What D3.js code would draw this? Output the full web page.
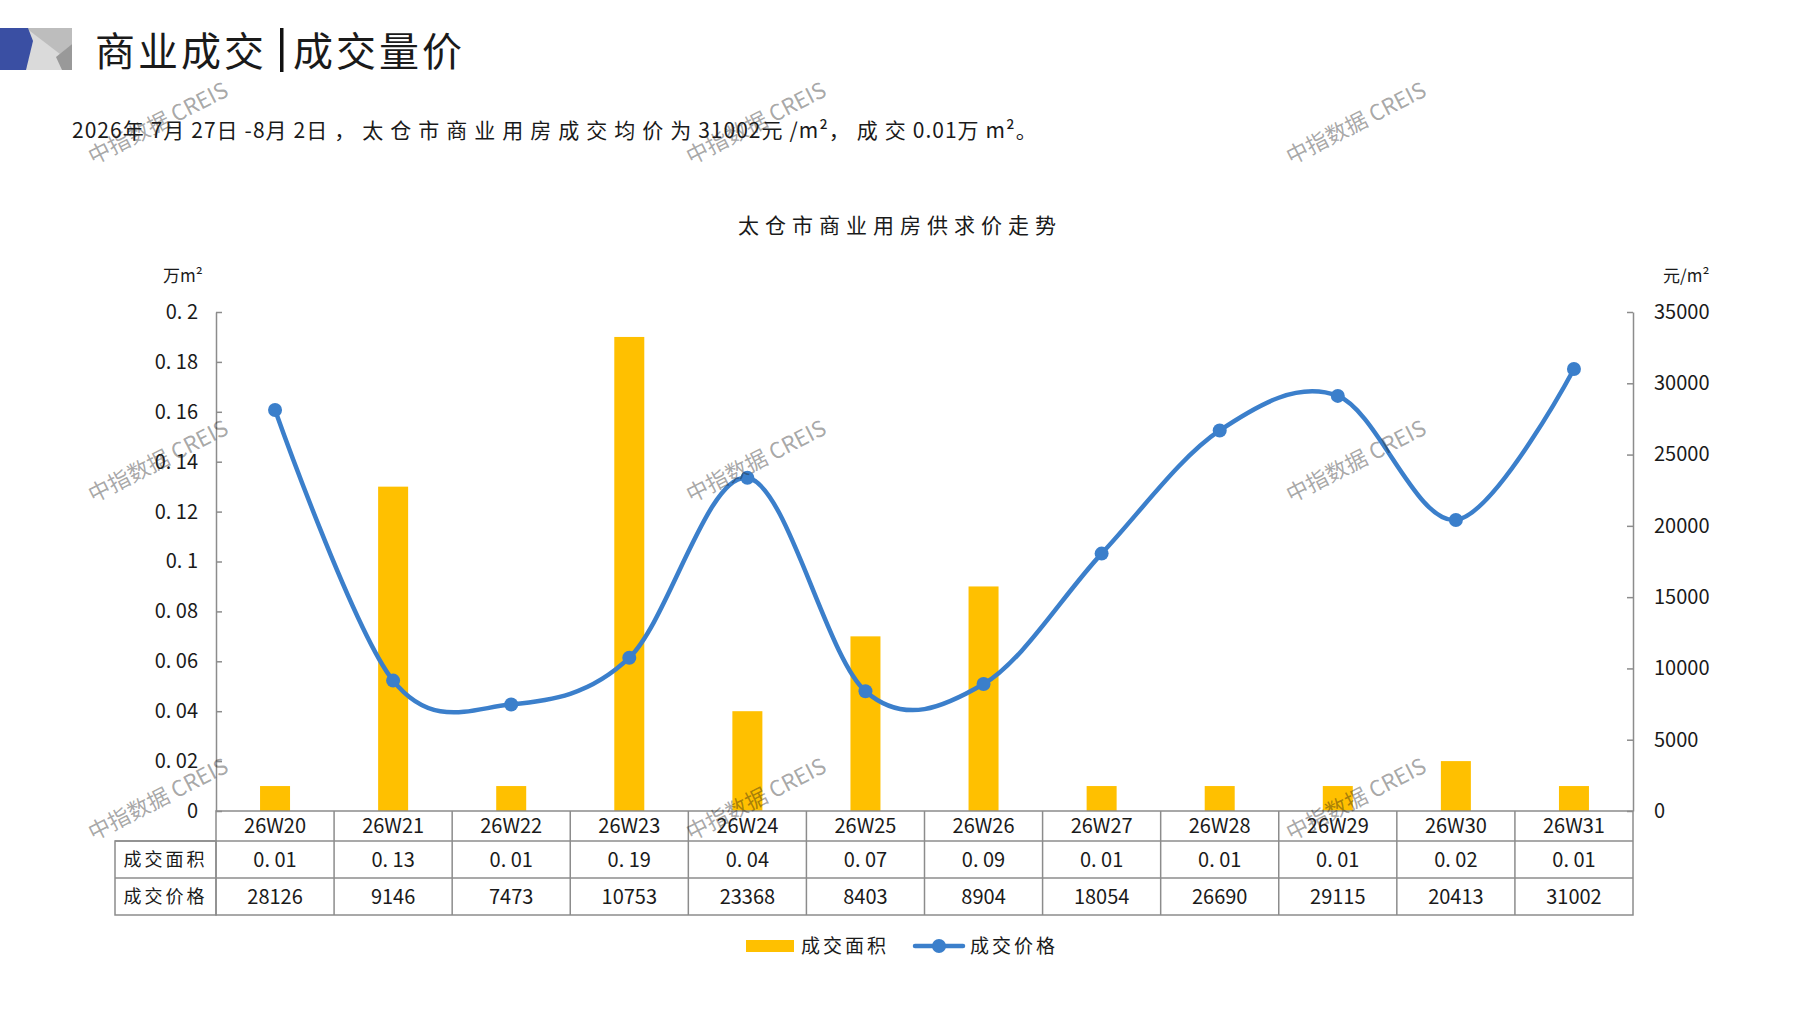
<!DOCTYPE html>
<html>
<head>
<meta charset="utf-8">
<script src="https://cdn.jsdelivr.net/npm/d3@7"></script>
<style>
    body { margin: 0; background: #ffffff; }
    svg { display: block; }
    text { font-family: "Noto Sans CJK SC", "Noto Sans", sans-serif; fill: #1a1a1a; }
</style>
</head>
<body>
<svg id="chart" width="1797" height="1010"></svg>
<script>
// ---- data ----
const weeks  = ['26W20', '26W21', '26W22', '26W23', '26W24', '26W25',
                '26W26', '26W27', '26W28', '26W29', '26W30', '26W31'];
const areas  = [0.01, 0.13, 0.01, 0.19, 0.04, 0.07, 0.09, 0.01, 0.01, 0.01, 0.02, 0.01];
const prices = [28126, 9146, 7473, 10753, 23368, 8403, 8904, 18054, 26690, 29115, 20413, 31002];

const areaTicks  = [0, 0.02, 0.04, 0.06, 0.08, 0.1, 0.12, 0.14, 0.16, 0.18, 0.2];
const priceTicks = [0, 5000, 10000, 15000, 20000, 25000, 30000, 35000];

const seriesNames = ['成交面积', '成交价格'];
const pageTitle   = ['商业成交', '成交量价'];
const summary     = '2026年7月27日-8月2日，太仓市商业用房成交均价为31002元/m²，成交0.01万m²。';
const chartTitle  = '太仓市商业用房供求价走势';
const units       = ['万m²', '元/m²'];
const watermark   = '中指数据 CREIS';

class PriceChart {
    constructor (selector) {
        this.svg = d3.select(selector);
        this.box = { left: 216, right: 1633, top: 312, bottom: 811 };
        this.rows = { head: 30, body: 37 };
        this.colors = { bar: '#FFC000', line: '#3B7FCB', grid: '#8c8c8c' };
    }
    makeScales () {
        let b = this.box;

        this.x = d3.scaleBand()
            .domain(weeks)
            .range([b.left, b.right]);

        this.yArea = d3.scaleLinear()
            .domain([0, 0.2])
            .range([b.bottom, b.top]);

        this.yPrice = d3.scaleLinear()
            .domain([0, 35000])
            .range([b.bottom, b.top]);
    }
    drawHeader () {
        let g = this.svg.append('g').attr('class', 'header');

        // logo blocks
        g.append('rect').attr('x', 24).attr('y', 28).attr('width', 48).attr('height', 42)
            .attr('fill', '#dadada');
        g.append('polygon').attr('points', '26,28 72,28 72,44 60,54')
            .attr('fill', '#bdbdbd');
        g.append('polygon').attr('points', '72,44 72,70 62,70 56,57')
            .attr('fill', '#999999');
        g.append('polygon').attr('points', '0,28 28,28 33,41 26,70 0,70')
            .attr('fill', '#3A4FA3');

        g.append('text')
            .attr('x', 95).attr('y', 66)
            .attr('font-size', 40)
            .attr('letter-spacing', 3)
            .text(pageTitle[0]);
        g.append('rect')
            .attr('x', 280).attr('y', 28).attr('width', 3.5).attr('height', 44)
            .attr('fill', '#111111');
        g.append('text')
            .attr('x', 293).attr('y', 66)
            .attr('font-size', 40)
            .attr('letter-spacing', 3)
            .text(pageTitle[1]);

        // summary: wide spacing on CJK runs, tight on latin runs
        let runs = summary.match(/[\x00-\x7F²]+|[^\x00-\x7F²]+/g);
        g.append('text')
            .attr('x', 72).attr('y', 138)
            .attr('font-size', 21)
            .attr('fill', '#222')
            .selectAll('tspan')
            .data(runs)
            .enter()
            .append('tspan')
            .attr('letter-spacing', (d) => { return /[\x00-\x7F²]/.test(d[0]) ? 1 : 7; })
            .text((d) => { return d; });

        g.append('text')
            .attr('x', 900).attr('y', 233)
            .attr('text-anchor', 'middle')
            .attr('font-size', 21)
            .attr('letter-spacing', 6)
            .text(chartTitle);
    }
    drawAxes () {
        let b = this.box;
        let fmt = (d) => d === 0 ? '0' : d3.format('.2~f')(d).replace('.', '. ');

        let left = this.svg.append('g')
            .attr('class', 'axis left')
            .attr('transform', 'translate(' + b.left + ',0)')
            .call(d3.axisLeft(this.yArea)
                .tickValues(areaTicks)
                .tickFormat(fmt)
                .tickSizeInner(-6)
                .tickSizeOuter(0)
                .tickPadding(18));

        let right = this.svg.append('g')
            .attr('class', 'axis right')
            .attr('transform', 'translate(' + b.right + ',0)')
            .call(d3.axisRight(this.yPrice)
                .tickValues(priceTicks)
                .tickFormat(d3.format('d'))
                .tickSizeInner(-6)
                .tickSizeOuter(0)
                .tickPadding(21));

        for (let axis of [left, right]) {
            axis.selectAll('path, line')
                .attr('stroke', this.colors.grid)
                .attr('stroke-width', 1.5);
            axis.selectAll('text')
                .attr('font-family', '"Liberation Sans", Arial, sans-serif')
                .attr('font-size', 20)
                .attr('fill', '#111');
        }

        this.svg.append('text')
            .attr('x', 163).attr('y', 282)
            .attr('font-size', 17)
            .text(units[0]);
        this.svg.append('text')
            .attr('x', 1663).attr('y', 282)
            .attr('font-size', 17)
            .text(units[1]);
    }
    drawBars () {
        let bw = 30;
        let data = weeks.map((w, i) => ({ week: w, value: areas[i] }));

        this.svg.append('g').attr('class', 'bars')
            .selectAll('rect.bar')
            .data(data, (d) => { return d.week; })
            .enter()
            .append('rect')
            .attr('class', 'bar')
            .attr('x', (d) => { return this.x(d.week) + this.x.bandwidth() / 2 - bw / 2; })
            .attr('y', (d) => { return this.yArea(d.value); })
            .attr('width', bw)
            .attr('height', (d) => { return this.yArea(0) - this.yArea(d.value); })
            .attr('fill', this.colors.bar);
    }
    drawLine () {
        let half = this.x.bandwidth() / 2;
        let data = weeks.map((w, i) => ({ week: w, value: prices[i] }));

        let line = d3.line()
            .x((d) => { return this.x(d.week) + half; })
            .y((d) => { return this.yPrice(d.value); })
            .curve(d3.curveCardinal.tension(0));

        let g = this.svg.append('g').attr('class', 'price');

        g.append('path')
            .datum(data)
            .attr('d', line)
            .attr('fill', 'none')
            .attr('stroke', this.colors.line)
            .attr('stroke-width', 4.5)
            .attr('stroke-linecap', 'round');

        g.selectAll('circle.dot')
            .data(data, (d) => { return d.week; })
            .enter()
            .append('circle')
            .attr('class', 'dot')
            .attr('cx', (d) => { return this.x(d.week) + half; })
            .attr('cy', (d) => { return this.yPrice(d.value); })
            .attr('r', 7)
            .attr('fill', this.colors.line);
    }
    drawTable () {
        let b = this.box;
        let r = this.rows;
        let labelLeft = 115;
        let g = this.svg.append('g').attr('class', 'table');
        let stroke = (sel) => sel.attr('stroke', this.colors.grid).attr('stroke-width', 1.5).attr('fill', 'none');

        let yHead = b.bottom;
        let yRow1 = yHead + r.head;
        let yRow2 = yRow1 + r.body;
        let yEnd  = yRow2 + r.body;

        // cell grid
        stroke(g.append('rect').attr('x', b.left).attr('y', yHead)
            .attr('width', b.right - b.left).attr('height', yEnd - yHead));
        stroke(g.append('rect').attr('x', labelLeft).attr('y', yRow1)
            .attr('width', b.left - labelLeft).attr('height', yEnd - yRow1));
        for (let yy of [yRow1, yRow2])
            stroke(g.append('line').attr('x1', labelLeft).attr('x2', b.right)
                .attr('y1', yy).attr('y2', yy));
        g.selectAll('line.col')
            .data(weeks.slice(1))
            .enter()
            .append('line')
            .attr('class', 'col')
            .attr('x1', (d) => { return this.x(d); })
            .attr('x2', (d) => { return this.x(d); })
            .attr('y1', yHead)
            .attr('y2', yEnd)
            .attr('stroke', this.colors.grid)
            .attr('stroke-width', 1.5);

        let half = this.x.bandwidth() / 2;
        let num = '"Liberation Sans Narrow", "DejaVu Sans Condensed", "Liberation Sans", sans-serif';
        let rowsData = [
            { y: yHead + r.head / 2, list: weeks },
            { y: yRow1 + r.body / 2, list: areas.map((v) => { return d3.format('.2f')(v).replace('.', '. '); }) },
            { y: yRow2 + r.body / 2, list: prices.map((v) => { return String(v); }) },
        ];

        rowsData.forEach((row, k) => {
            g.selectAll('text.cell' + k)
                .data(row.list)
                .enter()
                .append('text')
                .attr('class', 'cell' + k)
                .attr('x', (d, i) => { return this.x(weeks[i]) + half; })
                .attr('y', row.y)
                .attr('dy', '0.36em')
                .attr('text-anchor', 'middle')
                .attr('font-family', num)
                .attr('font-size', 20)
                .text((d) => { return d; });
        });

        g.selectAll('text.rowlabel')
            .data(seriesNames)
            .enter()
            .append('text')
            .attr('class', 'rowlabel')
            .attr('x', (labelLeft + b.left) / 2)
            .attr('y', (d, i) => { return yRow1 + r.body * i + r.body / 2; })
            .attr('dy', '0.36em')
            .attr('text-anchor', 'middle')
            .attr('font-size', 18)
            .attr('letter-spacing', 3)
            .text((d) => { return d; });
    }
    drawLegend () {
        let g = this.svg.append('g').attr('class', 'legend');
        let y = 946;

        g.append('rect')
            .attr('x', 746).attr('y', y - 6).attr('width', 48).attr('height', 12)
            .attr('fill', this.colors.bar);
        g.append('text')
            .attr('x', 801).attr('y', y).attr('dy', '0.36em')
            .attr('font-size', 19).attr('letter-spacing', 3)
            .text(seriesNames[0]);

        g.append('line')
            .attr('x1', 915).attr('x2', 963).attr('y1', y).attr('y2', y)
            .attr('stroke', this.colors.line).attr('stroke-width', 4.5)
            .attr('stroke-linecap', 'round');
        g.append('circle')
            .attr('cx', 939).attr('cy', y).attr('r', 7)
            .attr('fill', this.colors.line);
        g.append('text')
            .attr('x', 970).attr('y', y).attr('dy', '0.36em')
            .attr('font-size', 19).attr('letter-spacing', 3)
            .text(seriesNames[1]);
    }
    drawWatermarks () {
        let spots = [];
        for (let cy of [123, 461, 799])
            for (let cx of [158, 756, 1356])
                spots.push({ cx: cx, cy: cy });

        this.svg.append('g').attr('class', 'watermark')
            .selectAll('text')
            .data(spots)
            .enter()
            .append('text')
            .attr('transform', (d) => { return 'translate(' + d.cx + ',' + d.cy + ') rotate(-27)'; })
            .attr('text-anchor', 'middle')
            .attr('dy', '0.36em')
            .attr('font-size', 22)
            .attr('fill', '#9a9a9a')
            .attr('fill-opacity', 0.4)
            .text(watermark);
    }
    draw () {
        this.makeScales();
        this.drawHeader();
        this.drawBars();
        this.drawLine();
        this.drawAxes();
        this.drawTable();
        this.drawLegend();
        this.drawWatermarks();
    }
}

new PriceChart('#chart').draw();
</script>
</body>
</html>
